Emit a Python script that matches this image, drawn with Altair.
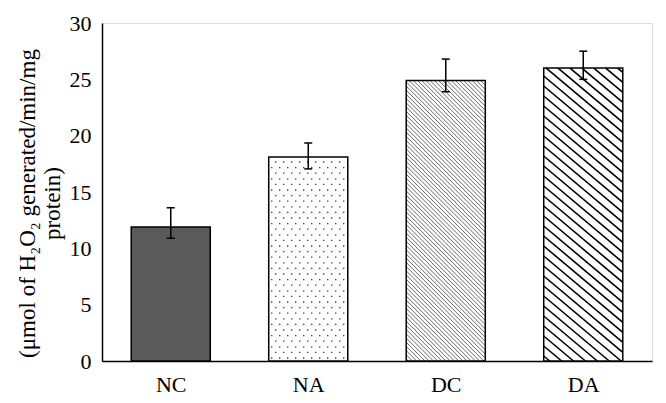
import altair as alt
import numpy as np
import pandas as pd

groups = ["NC", "NA", "DC", "DA"]
means = [11.9, 18.1, 24.9, 26.0]
err_low = [10.9, 17.05, 23.9, 25.0]
err_high = [13.6, 19.35, 26.8, 27.5]
bar_fills = ["#5a5a5a", "white", "white", "white"]

W_PLOT, H_PLOT = 550, 338
Y_MAX = 30
sx = W_PLOT / len(groups)   # px per x unit
sy = H_PLOT / Y_MAX         # px per y unit
BAR_L, BAR_R = 0.2125, 0.7875
bar_w_px = (BAR_R - BAR_L) * sx
cap_half = 4 / sx

bars = pd.DataFrame({
    "group": groups,
    "x0": [i + BAR_L for i in range(len(groups))],
    "x1": [i + BAR_R for i in range(len(groups))],
    "xc": [i + 0.5 for i in range(len(groups))],
    "c0": [i + 0.5 - cap_half for i in range(len(groups))],
    "c1": [i + 0.5 + cap_half for i in range(len(groups))],
    "mean": means,
    "lo": err_low,
    "hi": err_high,
    "fill": bar_fills,
})


def hatch_lines(idx, slope, dc, phase):
    """Diagonal '\\' hatch segments clipped to bar idx (pattern texture)."""
    H = means[idx] * sy
    W = bar_w_px
    rows = []
    c = phase
    while c < H + slope * W:
        u0 = max(0.0, (c - H) / slope)
        u1 = min(W, c / slope)
        if u1 > u0:
            rows.append({
                "x": idx + BAR_L + u0 / sx, "y": (c - slope * u0) / sy,
                "x2": idx + BAR_L + u1 / sx, "y2": (c - slope * u1) / sy,
            })
        c += dc
    return pd.DataFrame(rows)


hatch_dc = hatch_lines(2, 1.0, 4.2, 2.0)
hatch_da = hatch_lines(3, 0.84, 10.0, 5.0)

# stippled texture for NA
dot_rows = []
H_na = means[1] * sy
v = 3.0
r = 0
while v < H_na - 1:
    u = 3.0 + (4.0 if r % 2 else 0.0)
    while u < bar_w_px - 1:
        dot_rows.append({"x": 1 + BAR_L + u / sx, "y": v / sy})
        u += 8.0
    v += 5.6
    r += 1
dots = pd.DataFrame(dot_rows)

label_expr = "".join(
    f"floor(datum.value) == {i} ? '{g}' : " for i, g in enumerate(groups)
) + "''"

x_scale = alt.Scale(domain=[0, len(groups)], nice=False, zero=False)
y_scale = alt.Scale(domain=[0, Y_MAX], nice=False)

FONT = "Liberation Serif"

x_axis = alt.Axis(
    values=[i + 0.5 for i in range(len(groups))], labelExpr=label_expr,
    ticks=False, tickSize=0, grid=False, domainColor="black", domainWidth=1.5,
    labelFont=FONT, labelFontSize=22, labelColor="black", labelPadding=13,
    title=None, labelAngle=0,
)
y_axis = alt.Axis(
    values=[0, 5, 10, 15, 20, 25, 30], ticks=False, tickSize=0, grid=False,
    domainColor="black", domainWidth=1.5,
    labelFont=FONT, labelFontSize=22, labelColor="black", labelPadding=11,
    title=["(μmol of H₂O₂ generated/min/mg", "protein)"],
    titleFont=FONT, titleFontSize=23, titleFontWeight="normal", titleColor="black",
    titleAngle=-90, titleAlign="center", titleBaseline="alphabetic",
    titleX=-68, titleY=180, titleLineHeight=25,
)

base = alt.Chart(bars)

bar_fill = base.mark_rect(strokeWidth=0).encode(
    x=alt.X("x0:Q", scale=x_scale, axis=x_axis),
    x2="x1:Q",
    y=alt.Y("mean:Q", scale=y_scale, axis=y_axis),
    y2=alt.datum(0),
    fill=alt.Fill("fill:N", scale=None),
)

hatch1 = alt.Chart(hatch_dc).mark_rule(color="#6a6a6a", strokeWidth=1).encode(
    x="x:Q", x2="x2:Q", y="y:Q", y2="y2:Q"
)
hatch2 = alt.Chart(hatch_da).mark_rule(color="black", strokeWidth=1.6).encode(
    x="x:Q", x2="x2:Q", y="y:Q", y2="y2:Q"
)
dot_layer = alt.Chart(dots).mark_square(size=1.6, color="#333333", opacity=1).encode(
    x="x:Q", y="y:Q"
)

outline = base.mark_rect(fill=None, stroke="black", strokeWidth=1.5).encode(
    x="x0:Q", x2="x1:Q", y="mean:Q", y2=alt.datum(0)
)

err = base.mark_rule(color="black", strokeWidth=1.5).encode(
    x="xc:Q", y="lo:Q", y2="hi:Q"
)
cap_lo = base.mark_rule(color="black", strokeWidth=1.5).encode(
    x="c0:Q", x2="c1:Q", y="lo:Q"
)
cap_hi = base.mark_rule(color="black", strokeWidth=1.5).encode(
    x="c0:Q", x2="c1:Q", y="hi:Q"
)

chart = alt.layer(
    bar_fill, hatch1, hatch2, dot_layer, outline, err, cap_lo, cap_hi
).properties(
    width=W_PLOT, height=H_PLOT, autosize="none",
    padding={"left": 94, "top": 15, "right": 6, "bottom": 40},
).configure_view(stroke=None).configure(background="white")

chart.save("out.html", embed_options={"renderer": "svg", "actions": False})
